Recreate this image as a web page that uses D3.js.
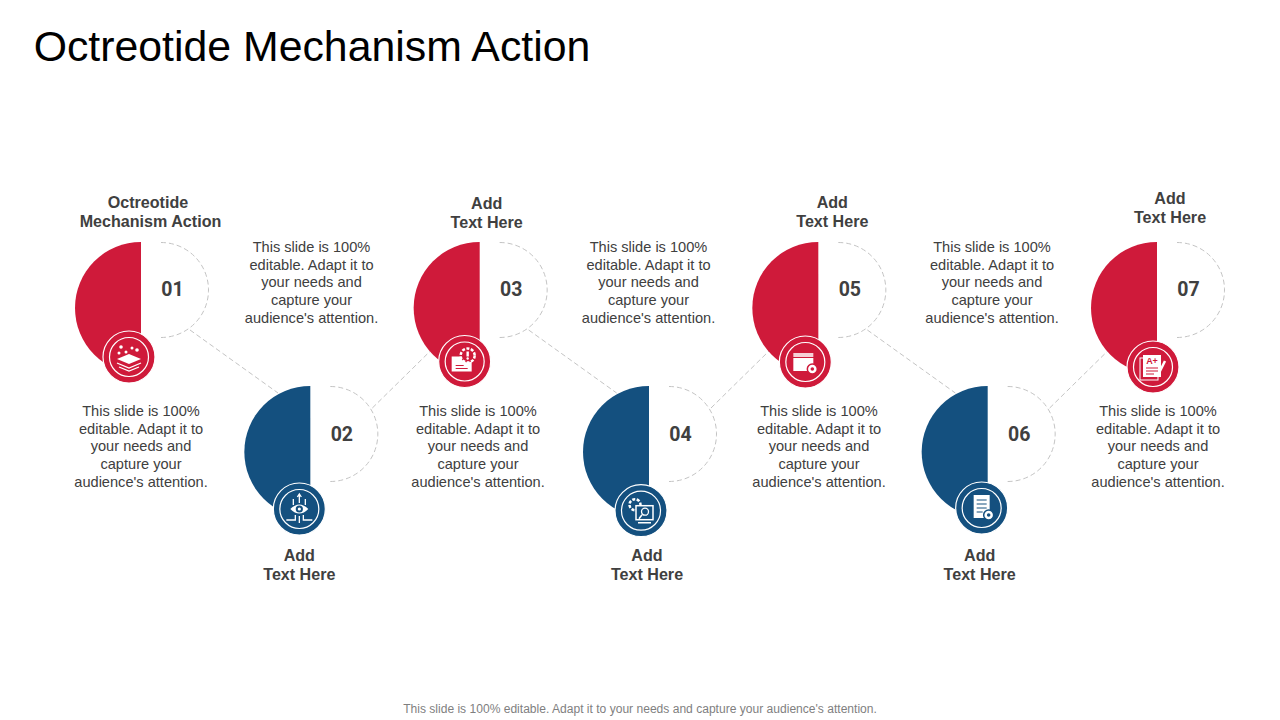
<!DOCTYPE html>
<html>
<head>
<meta charset="utf-8">
<script src="https://cdn.jsdelivr.net/npm/d3@7"></script>
<style>
  html, body { margin: 0; padding: 0; background: #fff; }
  svg { display: block; }
  text { font-family: "Liberation Sans", Arial, sans-serif; text-anchor: middle; dominant-baseline: central; }
</style>
</head>
<body>
<div id="plot"></div>
<script>
var stepLabels = ["01", "02", "03", "04", "05", "06", "07"];
var stepHeadings = [
  ["Octreotide", "Mechanism Action"],
  ["Add", "Text Here"],
  ["Add", "Text Here"],
  ["Add", "Text Here"],
  ["Add", "Text Here"],
  ["Add", "Text Here"],
  ["Add", "Text Here"]
];
var bodyLines = ["This slide is 100%", "editable. Adapt it to", "your needs and", "capture your", "audience's attention."];
var stepIcons = ["layers", "eye", "folderGear", "monitorGear", "folderCog", "docGear", "grade"];
var footerText = "This slide is 100% editable. Adapt it to your needs and capture your audience's attention.";

var red = "#cf1a3a", blue = "#14507f", ink = "#404040", dash = "#c4c4c4";

var svg = d3.select("#plot").append("svg").attr("width", 1280).attr("height", 720);

var x = d3.scaleLinear().domain([0, 6]).range([141, 1157]);
var topY = function(i) { return i % 2 ? 386 : 242; };
var color = function(i) { return i % 2 ? blue : red; };

// hand-placed offsets, the slide is not quite regular
var badgeDx = [-12, -11, -15, -8, -13, -6, -4];
var badgeDy = [115, 123, 119.5, 124.7, 120, 122, 125];
var headDx = [7, -11, 7, -2, 14, -8, 13];
var headY = [202, 555, 203, 555, 202, 555, 198];
var bodyX = [141, 478, 819, 1158];
var bodyTopX = [311.5, 648.5, 992];
var lineY = [0, 18, 35, 53, 71];

svg.append("text").attr("x", 312).attr("y", 46).attr("fill", "#000")
  .style("font-size", "42.8px").text("Octreotide Mechanism Action");

// connectors between the steps
var links = d3.range(6).map(function(i) {
  return i % 2
    ? [[x(i) + 62, 408], [x(i) + 120, 351]]
    : [[x(i) + 49, 330], [x(i) + 137, 393]];
});
svg.selectAll("line.link").data(links).enter().append("line")
  .attr("class", "link")
  .attr("x1", function(d) { return d[0][0]; }).attr("y1", function(d) { return d[0][1]; })
  .attr("x2", function(d) { return d[1][0]; }).attr("y2", function(d) { return d[1][1]; })
  .attr("stroke", dash).attr("stroke-width", 1).attr("stroke-dasharray", "5 3");

var arc = d3.arc();
var steps = svg.selectAll("g.step").data(stepLabels).enter().append("g").attr("class", "step");

// half disc
steps.append("path")
  .attr("transform", function(d, i) { return "translate(" + x(i) + "," + (topY(i) + 66) + ")"; })
  .attr("d", arc({ innerRadius: 0, outerRadius: 66, startAngle: Math.PI, endAngle: 2 * Math.PI }))
  .attr("fill", function(d, i) { return color(i); });

// dashed half ring on the right, d3.arc would trace it twice and fill the gaps
var halfRing = d3.path();
halfRing.arc(0, 0, 47.5, -Math.PI / 2, Math.PI / 2);
steps.append("path")
  .attr("transform", function(d, i) { return "translate(" + (x(i) + 20) + "," + (topY(i) + 48) + ")"; })
  .attr("d", halfRing.toString())
  .attr("fill", "none").attr("stroke", dash).attr("stroke-width", 1).attr("stroke-dasharray", "5 3");

steps.append("text")
  .attr("x", function(d, i) { return x(i) + 31.5; })
  .attr("y", function(d, i) { return topY(i) + (i % 2 ? 48 : 47); })
  .attr("fill", ink)
  .style("font-family", "Roboto, sans-serif").style("font-weight", 700).style("font-size", "19.5px")
  .text(function(d) { return d; });

// badge
var badges = steps.append("g").attr("transform", function(d, i) {
  return "translate(" + (x(i) + badgeDx[i]) + "," + (topY(i) + badgeDy[i]) + ")";
});
badges.append("circle").attr("r", 26).attr("fill", function(d, i) { return color(i); })
  .attr("stroke", "#fff").attr("stroke-width", 1.2);
badges.append("circle").attr("r", 19.5).attr("fill", "none").attr("stroke", "#fff").attr("stroke-width", 1.2);

// small white glyphs, the bg colour is needed for cut-outs
var icons = {
  layers: function(g, bg) {
    [[-8, -10, 1.8], [-3, -5, 1.5], [3, -9, 1.5], [8, -7, 1.8], [-10, -4, 1.5]].forEach(function(p) {
      g.append("circle").attr("cx", p[0]).attr("cy", p[1]).attr("r", p[2]).attr("fill", "#fff");
    });
    g.append("path").attr("d", "M0,-3L12,2L0,7L-12,2Z").attr("fill", "#fff");
    g.append("path").attr("d", "M-12,6L0,11L12,6M-10,10L0,14L10,10").attr("fill", "none").attr("stroke", "#fff").attr("stroke-width", 1.3);
  },
  eye: function(g, bg) {
    g.append("path").attr("d", "M-9,0Q0,-9 9,0Q0,9 -9,0Z").attr("fill", "#fff");
    g.append("circle").attr("r", 3.6).attr("fill", bg);
    g.append("circle").attr("r", 1.6).attr("fill", "#fff");
    g.append("path").attr("d", "M0,-6V-14M-2,-12L0,-15L2,-12M-6,-4V-10M6,-4V-10M-4,6V11H-13M4,6V11H13M0,7V14")
      .attr("fill", "none").attr("stroke", "#fff").attr("stroke-width", 1.3);
  },
  folderGear: function(g, bg) {
    g.append("rect").attr("x", -13).attr("y", -5).attr("width", 20).attr("height", 15).attr("fill", "#fff");
    g.append("path").attr("d", "M-9,4H-1M-9,7H3").attr("stroke", bg).attr("stroke-width", 1.2);
    g.append("circle").attr("cx", 3).attr("cy", -6).attr("r", 7).attr("fill", bg).attr("stroke", "#fff").attr("stroke-width", 2.5).attr("stroke-dasharray", "3 1.5");
    g.append("rect").attr("x", 1.8).attr("y", -10).attr("width", 2.4).attr("height", 5).attr("fill", "#fff");
    g.append("circle").attr("cx", 3).attr("cy", -3).attr("r", 1.2).attr("fill", "#fff");
  },
  monitorGear: function(g, bg) {
    g.append("circle").attr("cx", -6).attr("cy", -6).attr("r", 5.5).attr("fill", bg).attr("stroke", "#fff").attr("stroke-width", 2.5).attr("stroke-dasharray", "3 1.5");
    g.append("rect").attr("x", -5).attr("y", -5).attr("width", 17).attr("height", 14).attr("fill", bg).attr("stroke", "#fff").attr("stroke-width", 1.5);
    g.append("circle").attr("cx", 4).attr("cy", 1).attr("r", 3.5).attr("fill", "none").attr("stroke", "#fff").attr("stroke-width", 1.3);
    g.append("path").attr("d", "M1,4L-2,8M-3,12H10").attr("stroke", "#fff").attr("stroke-width", 1.5);
  },
  folderCog: function(g, bg) {
    g.append("path").attr("d", "M-12,-9H8V-5H-12Z").attr("fill", "#fff").attr("opacity", 0.8);
    g.append("rect").attr("x", -12).attr("y", -4).attr("width", 20).attr("height", 13).attr("fill", "#fff");
    g.append("circle").attr("cx", 7).attr("cy", 7).attr("r", 5).attr("fill", "#fff").attr("stroke", bg).attr("stroke-width", 1.5);
    g.append("circle").attr("cx", 7).attr("cy", 7).attr("r", 1.8).attr("fill", bg);
  },
  docGear: function(g, bg) {
    g.append("rect").attr("x", -8).attr("y", -13).attr("width", 16).attr("height", 23).attr("fill", "#fff");
    g.append("path").attr("d", "M-5,-8H5M-5,-4H5M-5,0H5M-5,4H1").attr("stroke", bg).attr("stroke-width", 1.2);
    g.append("circle").attr("cx", 7).attr("cy", 7).attr("r", 5).attr("fill", "#fff").attr("stroke", bg).attr("stroke-width", 1.5);
    g.append("circle").attr("cx", 7).attr("cy", 7).attr("r", 1.8).attr("fill", bg);
  },
  grade: function(g, bg) {
    g.append("rect").attr("x", -13).attr("y", -9).attr("width", 18).attr("height", 22).attr("fill", "none").attr("stroke", "#fff").attr("stroke-width", 1);
    g.append("rect").attr("x", -10).attr("y", -12).attr("width", 18).attr("height", 22).attr("fill", "#fff");
    g.append("path").attr("d", "M-7,1H5M-7,4H5M-7,7H1").attr("stroke", bg).attr("stroke-width", 1.2);
    g.append("text").attr("x", -1).attr("y", -6).attr("fill", bg).style("font-size", "9px").style("font-weight", 700).text("A+");
    g.append("path").attr("d", "M12,-6L6,6").attr("stroke", "#fff").attr("stroke-width", 2.5);
  }
};
badges.each(function(d, i) {
  icons[stepIcons[i]](d3.select(this), color(i));
});

// headings, the long second line of the first step sits a bit to the right
steps.each(function(d, i) {
  var g = d3.select(this);
  stepHeadings[i].forEach(function(s, j) {
    g.append("text").attr("x", x(i) + headDx[i] + (i === 0 && j === 1 ? 2.5 : 0)).attr("y", headY[i] + j * 19)
      .attr("fill", ink).style("font-weight", 700).style("font-size", "16.1px").text(s);
  });
});

// body copy blocks
function block(cx, y0) {
  bodyLines.forEach(function(s, j) {
    svg.append("text").attr("x", cx).attr("y", y0 + lineY[j])
      .attr("fill", ink).style("font-size", "14.6px").text(s);
  });
}
bodyX.forEach(function(cx) { block(cx, 411); });
bodyTopX.forEach(function(cx) { block(cx, 247); });

svg.append("text").attr("x", 640).attr("y", 708.5).attr("fill", "#7f7f7f")
  .style("font-size", "12.07px").text(footerText);
</script>
</body>
</html>
